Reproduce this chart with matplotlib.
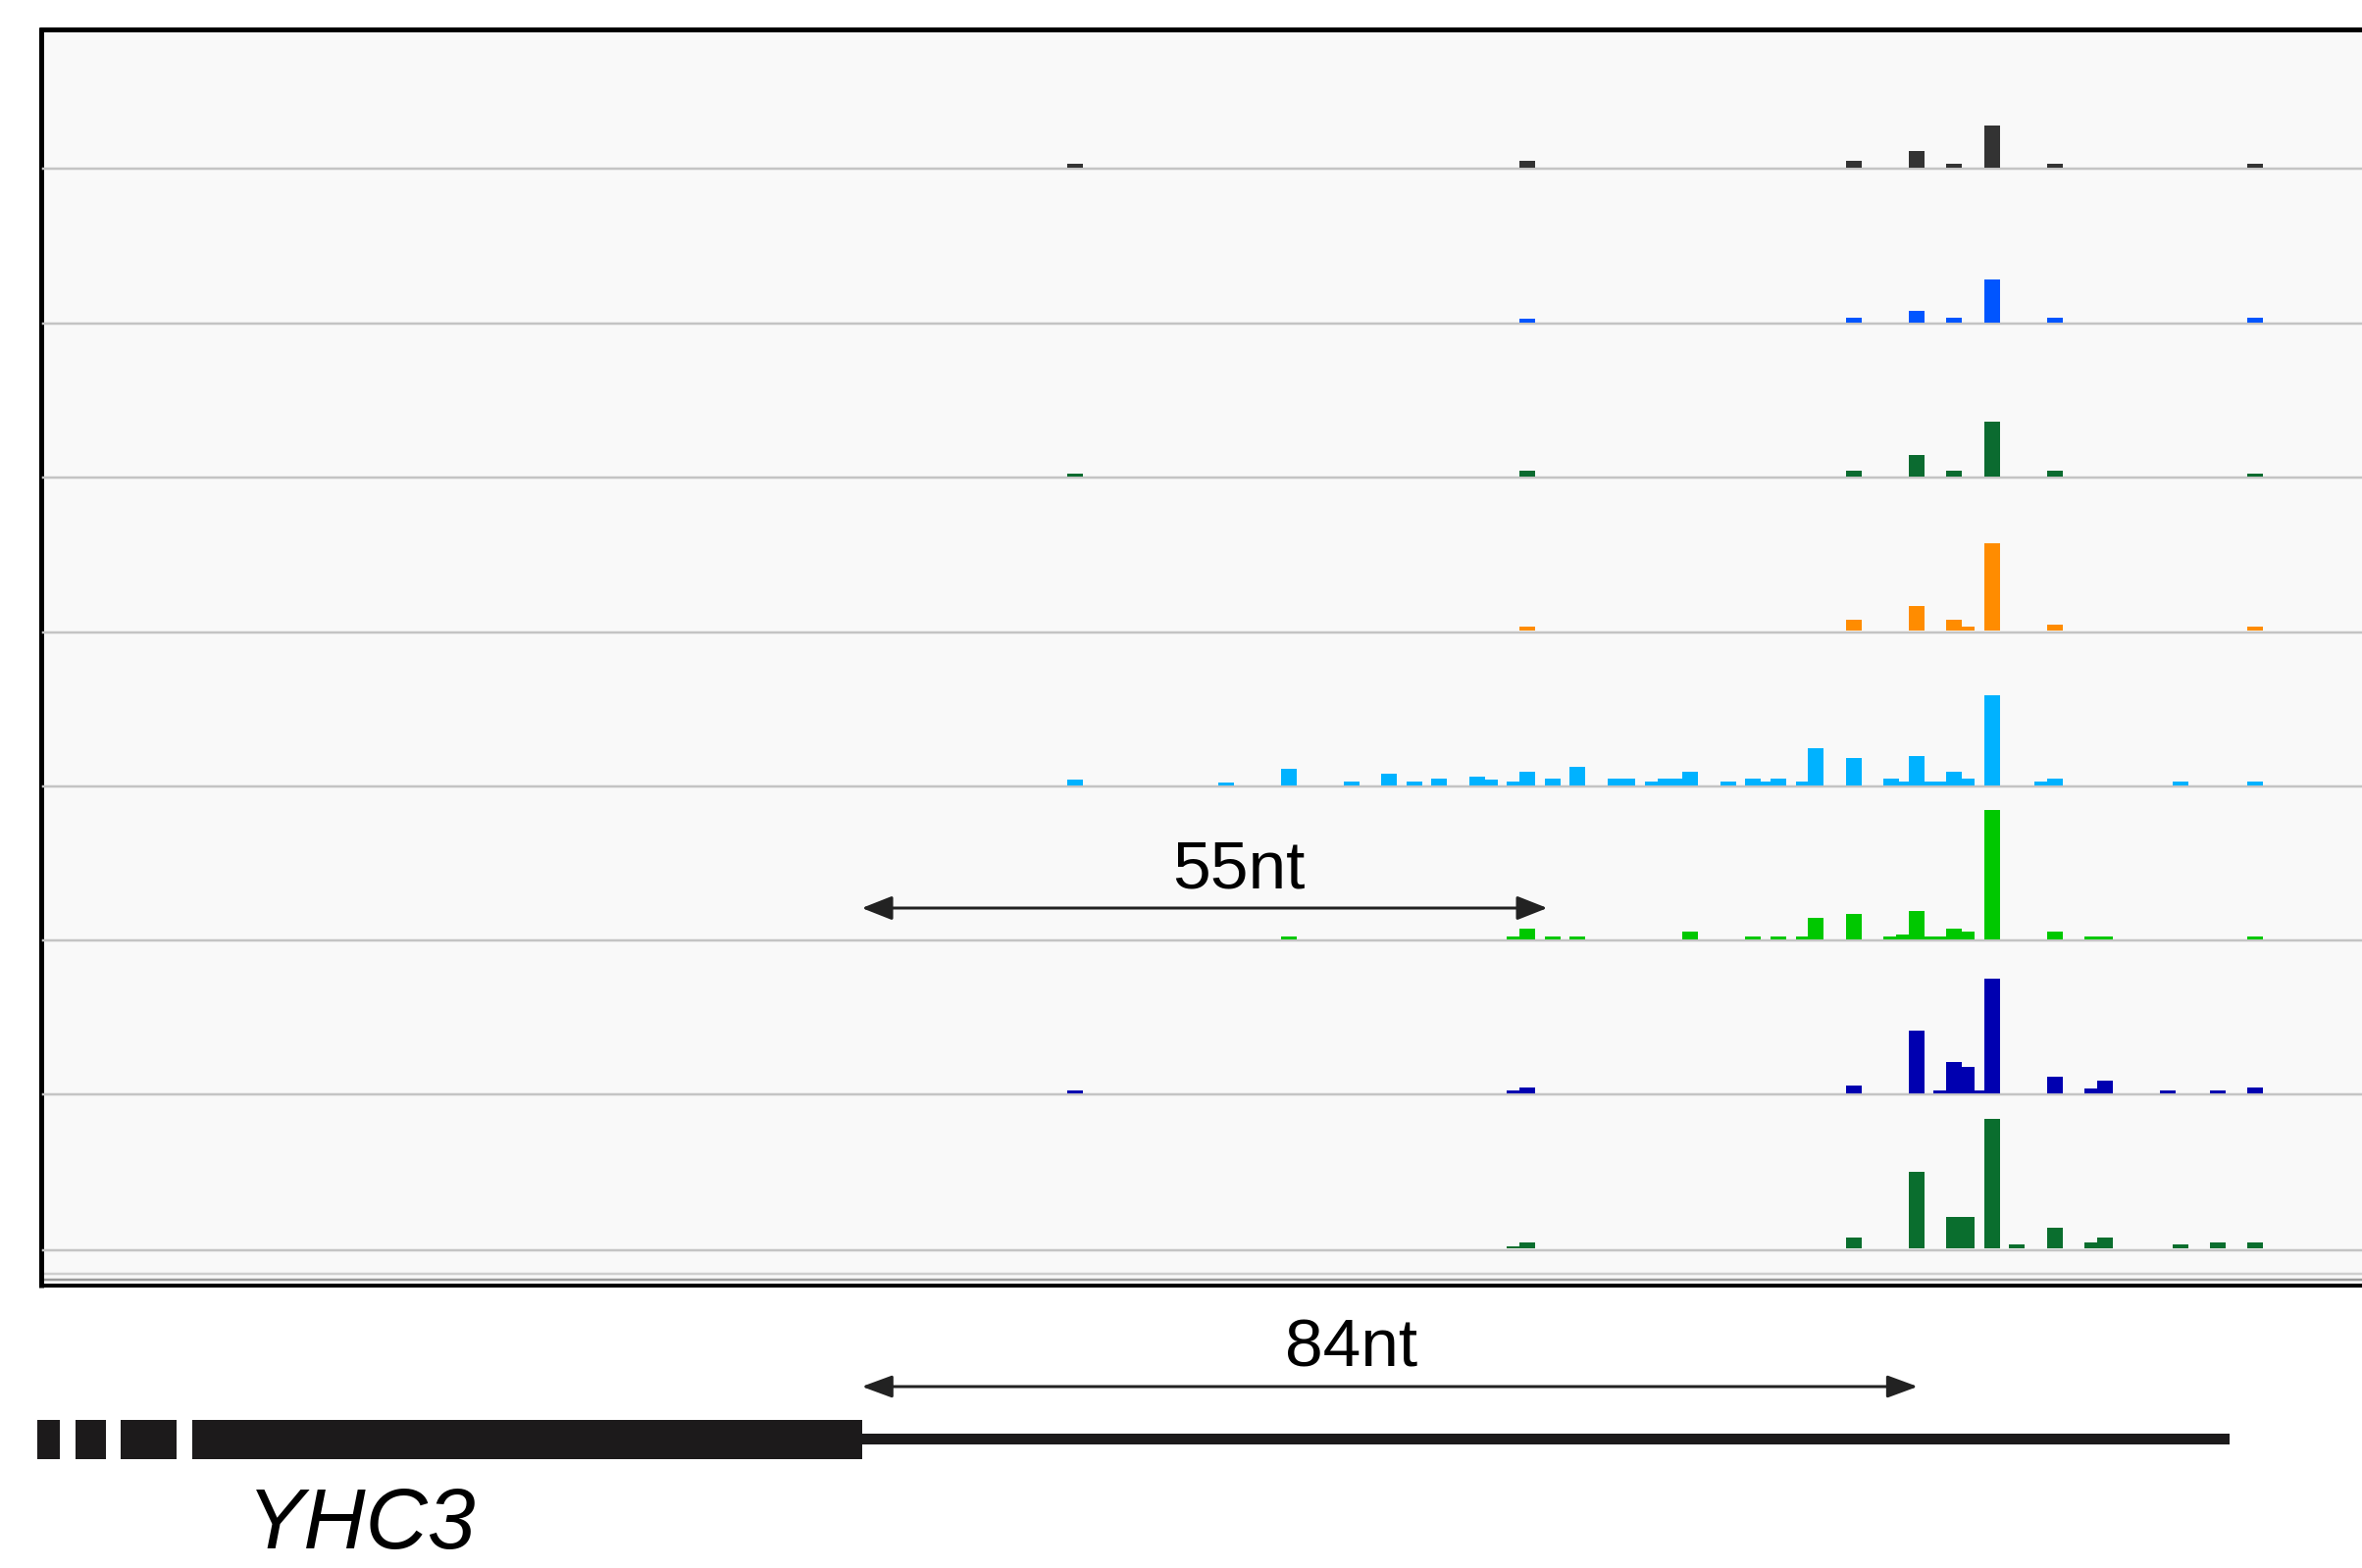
import matplotlib
matplotlib.use('Agg')
import matplotlib.pyplot as plt
from matplotlib.patches import Rectangle, FancyArrowPatch

plt.rcParams['font.family'] = ['Liberation Sans', 'DejaVu Sans']

# ---------------- data (positions in nt relative to the stop codon) ----------------
track_colors = ['#333333', '#0055ff', '#0b6b30', '#ff8c00',
                '#00b2ff', '#00c800', '#0000b0', '#0a6e2e']

pos_t1 = [17, 53, 79, 84, 87, 90, 95, 111]
val_t1 = [4, 7.5, 6.7, 16.7, 4, 43, 4, 4]

pos_t2 = [53, 79, 84, 87, 90, 95, 111]
val_t2 = [4, 4.3, 11.7, 4.3, 43.3, 4.3, 4.3]

pos_t3 = [17, 53, 79, 84, 87, 90, 95, 111]
val_t3 = [3.3, 6, 5.7, 21.7, 5.7, 55.7, 5.7, 3]

pos_t4 = [53, 79, 84, 87, 88, 90, 95, 111]
val_t4 = [4, 11.7, 25, 11.7, 4, 89, 6.7, 4]

pos_t5 = [17, 29, 34, 39, 42, 44, 46, 49, 50, 52, 53, 55, 57, 60, 61, 63, 64, 65,
          66, 69, 71, 72, 73, 75, 76, 79, 82, 83, 84, 85, 86, 87, 88, 90, 94, 95,
          105, 111]
val_t5 = [5.7, 3, 16.7, 3.5, 11.5, 3.5, 6.3, 9, 5.7, 3.5, 14, 6.3, 19, 6.3, 6.3, 4,
          6.3, 6.3, 14, 4, 6.3, 4, 6.3, 4, 37.3, 27.3, 6.3, 4, 30, 4, 4, 14, 6.3,
          91.3, 4, 6.3, 4, 4]

pos_t6 = [34, 52, 53, 55, 57, 66, 71, 73, 75, 76, 79, 82, 83, 84, 85, 86, 87, 88,
          90, 95, 98, 99, 111]
val_t6 = [3, 3, 10.7, 3, 3, 8, 3, 3, 2.3, 21.3, 25.7, 3, 5, 29, 3, 3, 10.7, 8,
          131.3, 8, 3, 3, 3]

pos_t7 = [17, 52, 53, 79, 84, 86, 87, 88, 89, 90, 95, 98, 99, 104, 108, 111]
val_t7 = [3.3, 2.7, 5.7, 8.3, 64.3, 2.7, 31.7, 26.7, 2.7, 116.7, 16.7, 5, 13.3,
          2.7, 2.7, 5.7]

pos_t8 = [52, 53, 79, 84, 87, 88, 90, 92, 95, 98, 99, 105, 108, 111]
val_t8 = [2.7, 6, 11.7, 78.3, 32.3, 32.3, 132.3, 4, 21.7, 6, 11.7, 4, 6.7, 6.7]

track_pos = [pos_t1, pos_t2, pos_t3, pos_t4, pos_t5, pos_t6, pos_t7, pos_t8]
track_val = [val_t1, val_t2, val_t3, val_t4, val_t5, val_t6, val_t7, val_t8]

# gene model (nt)
cds_blocks = [(-65.7, -63.9), (-62.6, -60.2), (-59.0, -54.6), (-53.3, 0.0)]
utr_span = (0.0, 108.9)
gene_name = 'YHC3'
arrow_55 = (0, 54.6)
arrow_84 = (0, 84.1)
label_55 = '55nt'
label_84 = '84nt'

# ---------------- layout ----------------
W, H = 2408, 1599
DPI = 100
PX_PER_NT = 12.8
X0_PX = 878.6                      # pixel of nt 0
xlim = (-X0_PX / PX_PER_NT, (W - X0_PX) / PX_PER_NT)

fig = plt.figure(figsize=(W / DPI, H / DPI), dpi=DPI)
fig.patch.set_facecolor('white')

# overlay axes in (nt, pixel-from-top) coordinates
ov = fig.add_axes([0, 0, 1, 1])
ov.set_xlim(*xlim)
ov.set_ylim(H, 0)
ov.axis('off')

def px2nt(px):
    return (px - X0_PX) / PX_PER_NT

frame_left, frame_top, frame_bottom = 42, 30, 1311
ov.add_patch(Rectangle((px2nt(frame_left), frame_top), xlim[1] - px2nt(frame_left),
                       frame_bottom - frame_top, facecolor='#f9f9f9', edgecolor='none', zorder=0))
pt = 72.0 / DPI
ov.plot([px2nt(frame_left - 2.5), xlim[1]], [frame_top, frame_top], color='black', lw=5 * pt,
        solid_capstyle='butt', zorder=5)
ov.plot([px2nt(frame_left), px2nt(frame_left)], [27.5, 1313], color='black', lw=5 * pt,
        solid_capstyle='butt', zorder=5)
ov.plot([px2nt(frame_left), xlim[1]], [1299, 1299], color='#cfcfcf', lw=2.5 * pt, zorder=4)
ov.plot([px2nt(frame_left), xlim[1]], [1305, 1305], color='#9a9a9a', lw=2.5 * pt, zorder=4)
ov.plot([px2nt(frame_left - 2.5), xlim[1]], [frame_bottom, frame_bottom], color='black',
        lw=4 * pt, solid_capstyle='butt', zorder=5)

# gene model
gene_y = 1467.5
for a, b in cds_blocks:
    ov.add_patch(Rectangle((a, gene_y - 20), b - a, 40, facecolor='#1c1a1b',
                           edgecolor='none', zorder=3))
ov.add_patch(Rectangle((utr_span[0], gene_y - 5.8), utr_span[1] - utr_span[0], 11.6,
                       facecolor='#1c1a1b', edgecolor='none', zorder=3))
ov.text(-39.85, 1579, gene_name, fontsize=63, fontstyle='italic', ha='center',
        va='baseline', color='black')

# 84nt arrow
arr84 = FancyArrowPatch((arrow_84[0], 1414), (arrow_84[1], 1414),
                        arrowstyle='<|-|>,head_length=19,head_width=7',
                        mutation_scale=1, color='#222222', lw=3 * pt, zorder=6,
                        shrinkA=0, shrinkB=0)
ov.add_patch(arr84)
ov.text(39.0, 1393, label_84, fontsize=50, ha='center', va='baseline', color='black')

# 55nt arrow
arr55 = FancyArrowPatch((arrow_55[0], 926), (arrow_55[1], 926),
                        arrowstyle='<|-|>,head_length=19,head_width=7.5',
                        mutation_scale=1, color='#222222', lw=3 * pt, zorder=6,
                        shrinkA=0, shrinkB=0)
ov.add_patch(arr55)
ov.text(30.0, 905, label_55, fontsize=50, ha='center', va='baseline', color='black')

# tracks
baselines = [171, 328.5, 486, 643.3, 800.7, 957.5, 1115, 1273.3]
track_h = 157.4
for i, (b, pos, val) in enumerate(zip(baselines, track_pos, track_val)):
    ax = fig.add_axes([0, 1 - b / H, 1, track_h / H])
    ax.set_xlim(*xlim)
    ax.set_ylim(0, track_h)
    ax.patch.set_alpha(0)
    ax.axis('off')
    ax.plot([px2nt(frame_left + 2), xlim[1]], [-1.3, -1.3], color='#c4c4c4',
            lw=2.5 * pt, zorder=1, clip_on=False)
    ax.bar(pos, val, width=1.25, color=track_colors[i], edgecolor='none',
           align='center', zorder=2)

fig.savefig('out.png', dpi=DPI, facecolor='white')
